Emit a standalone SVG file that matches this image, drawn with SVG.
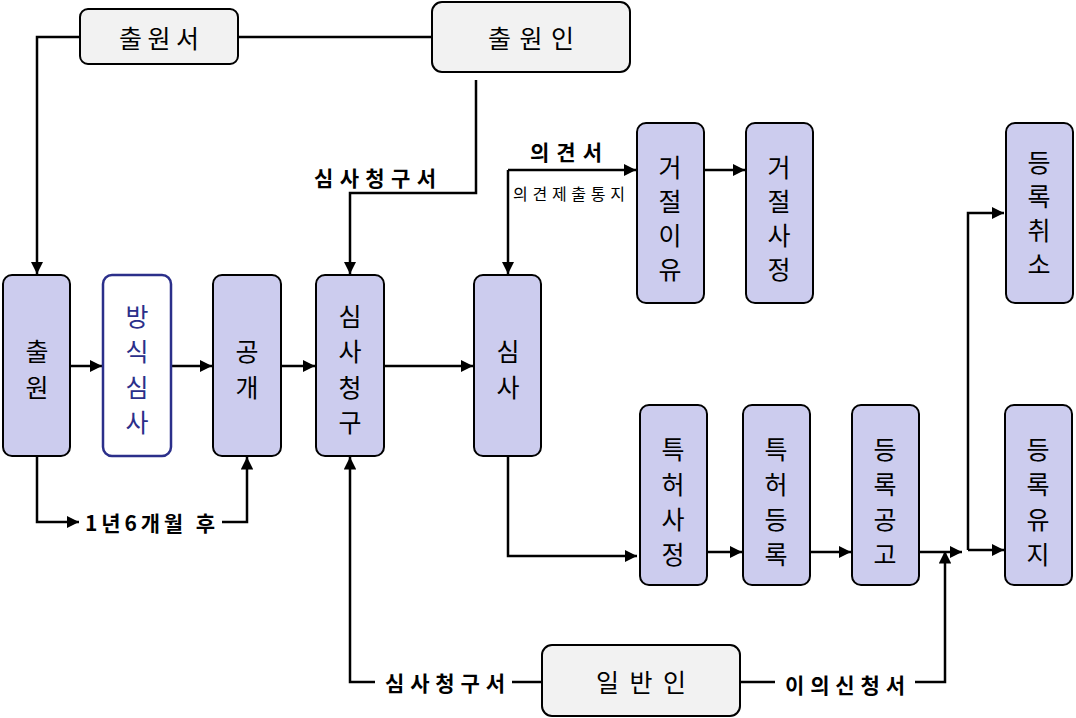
<svg xmlns="http://www.w3.org/2000/svg" width="1076" height="718" viewBox="0 0 1076 718">
<style>
.p{fill:#ccccee;stroke:#000;stroke-width:2}
.g{fill:#f2f2f2;stroke:#000;stroke-width:2}
.w{fill:#fff;stroke:#2b2f8a;stroke-width:2.5}
.t{font-family:"Noto Sans CJK KR","Noto Sans",sans-serif;font-size:25px;text-anchor:middle;dominant-baseline:central;fill:#000}
.tn{fill:#2b2f8a}
.h{font-family:"Noto Sans CJK KR","Noto Sans",sans-serif;font-size:25px;text-anchor:middle;dominant-baseline:central;fill:#000}
.l{font-family:"Noto Sans CJK KR","Noto Sans",sans-serif;font-size:21px;font-weight:bold;text-anchor:middle;dominant-baseline:central;fill:#000}
.s{font-family:"Noto Sans CJK KR","Noto Sans",sans-serif;font-size:16px;text-anchor:middle;dominant-baseline:central;fill:#000}
.c{fill:none;stroke:#000;stroke-width:2.5}
</style>
<defs>
<marker id="a" viewBox="0 0 10 10" refX="10" refY="5" markerWidth="5" markerHeight="5" orient="auto" markerUnits="strokeWidth">
<path d="M0,0 L10,5 L0,10 z" fill="#000"/>
</marker>
</defs>
<g id="connectors">
<path class="c" d="M80,37 H37 V274" marker-end="url(#a)"/>
<path class="c" d="M238,37 H432"/>
<path class="c" d="M476,80 V193 H350 V274" marker-end="url(#a)"/>
<path class="c" d="M70,366 H102" marker-end="url(#a)"/>
<path class="c" d="M171,366 H212" marker-end="url(#a)"/>
<path class="c" d="M281,366 H315" marker-end="url(#a)"/>
<path class="c" d="M384,366 H473" marker-end="url(#a)"/>
<path class="c" d="M37,456 V522 H79" marker-end="url(#a)"/>
<path class="c" d="M222,522 H247 V457" marker-end="url(#a)"/>
<path class="c" d="M375,682 H350 V457" marker-end="url(#a)"/>
<path class="c" d="M512,682 H542"/>
<path class="c" d="M740,682 H775"/>
<path class="c" d="M915,682 H945 V551" marker-end="url(#a)"/>
<path class="c" d="M508,456 V556 H637" marker-end="url(#a)"/>
<path class="c" d="M508,170 H636" marker-end="url(#a)"/>
<path class="c" d="M508,170 V274" marker-end="url(#a)"/>
<path class="c" d="M704,170 H745" marker-end="url(#a)"/>
<path class="c" d="M707,552 H742" marker-end="url(#a)"/>
<path class="c" d="M810,552 H851" marker-end="url(#a)"/>
<path class="c" d="M919,552 H962" marker-end="url(#a)"/>
<path class="c" d="M968,550 V213 H1004" marker-end="url(#a)"/>
<path class="c" d="M968,550 H1004" marker-end="url(#a)"/>
</g>
<g id="label-simsa1"><text class="l" x="375" y="177" textLength="122" lengthAdjust="spacing">심사청구서</text></g>
<g id="label-uigyeonseo"><text class="l" x="566" y="151" textLength="72" lengthAdjust="spacing">의견서</text></g>
<g id="label-notice"><text class="s" x="569" y="193" textLength="112" lengthAdjust="spacing">의견제출통지</text></g>
<g id="label-1y6m"><text class="l" x="150" y="522" textLength="130" lengthAdjust="spacing">1년6개월 후</text></g>
<g id="label-simsa2"><text class="l" x="445" y="682" textLength="120" lengthAdjust="spacing">심사청구서</text></g>
<g id="label-objection"><text class="l" x="845" y="684" textLength="120" lengthAdjust="spacing">이의신청서</text></g>
<g id="n-chulwonseo"><rect class="g" x="80" y="9" width="158" height="55" rx="8"/><text class="h" x="159" y="37" textLength="80" lengthAdjust="spacing">출원서</text></g>
<g id="n-chulwonin"><rect class="g" x="432" y="2" width="198" height="70" rx="10"/><text class="h" x="531" y="37" textLength="86" lengthAdjust="spacing">출원인</text></g>
<g id="n-ilbanin"><rect class="g" x="542" y="645" width="198" height="71" rx="10"/><text class="h" x="641" y="681" textLength="90" lengthAdjust="spacing">일반인</text></g>
<g id="n-chulwon"><rect class="p" x="3" y="275" width="67" height="181" rx="9"/><text class="t" x="37" y="350">출</text><text class="t" x="37" y="386">원</text></g>
<g id="n-bangsik"><rect class="w" x="103" y="275" width="68" height="181" rx="9"/><text class="t tn" x="137" y="315">방</text><text class="t tn" x="137" y="350">식</text><text class="t tn" x="137" y="386">심</text><text class="t tn" x="137" y="421">사</text></g>
<g id="n-gonggae"><rect class="p" x="213" y="275" width="68" height="181" rx="9"/><text class="t" x="247" y="350">공</text><text class="t" x="247" y="386">개</text></g>
<g id="n-simsacheong"><rect class="p" x="316" y="275" width="68" height="181" rx="9"/><text class="t" x="350" y="315">심</text><text class="t" x="350" y="350">사</text><text class="t" x="350" y="386">청</text><text class="t" x="350" y="421">구</text></g>
<g id="n-simsa"><rect class="p" x="474" y="275" width="67" height="181" rx="9"/><text class="t" x="508" y="350">심</text><text class="t" x="508" y="386">사</text></g>
<g id="n-geojeoliyu"><rect class="p" x="637" y="123" width="67" height="180" rx="9"/><text class="t" x="670" y="166">거</text><text class="t" x="670" y="200">절</text><text class="t" x="670" y="234">이</text><text class="t" x="670" y="268">유</text></g>
<g id="n-geojeolsajeong"><rect class="p" x="746" y="123" width="67" height="180" rx="9"/><text class="t" x="779" y="166">거</text><text class="t" x="779" y="200">절</text><text class="t" x="779" y="234">사</text><text class="t" x="779" y="268">정</text></g>
<g id="n-deungrokchwiso"><rect class="p" x="1006" y="123" width="67" height="180" rx="9"/><text class="t" x="1039" y="161">등</text><text class="t" x="1039" y="195">록</text><text class="t" x="1039" y="229">취</text><text class="t" x="1039" y="263">소</text></g>
<g id="n-teukheosajeong"><rect class="p" x="640" y="405" width="67" height="180" rx="9"/><text class="t" x="673" y="448">특</text><text class="t" x="673" y="483">허</text><text class="t" x="673" y="518">사</text><text class="t" x="673" y="553">정</text></g>
<g id="n-teukheodeungrok"><rect class="p" x="743" y="405" width="67" height="180" rx="9"/><text class="t" x="776" y="448">특</text><text class="t" x="776" y="483">허</text><text class="t" x="776" y="518">등</text><text class="t" x="776" y="553">록</text></g>
<g id="n-deungrokgonggo"><rect class="p" x="852" y="405" width="67" height="180" rx="9"/><text class="t" x="885" y="448">등</text><text class="t" x="885" y="483">록</text><text class="t" x="885" y="518">공</text><text class="t" x="885" y="553">고</text></g>
<g id="n-deungrokyuji"><rect class="p" x="1005" y="405" width="67" height="180" rx="9"/><text class="t" x="1038" y="448">등</text><text class="t" x="1038" y="483">록</text><text class="t" x="1038" y="518">유</text><text class="t" x="1038" y="553">지</text></g>
</svg>
